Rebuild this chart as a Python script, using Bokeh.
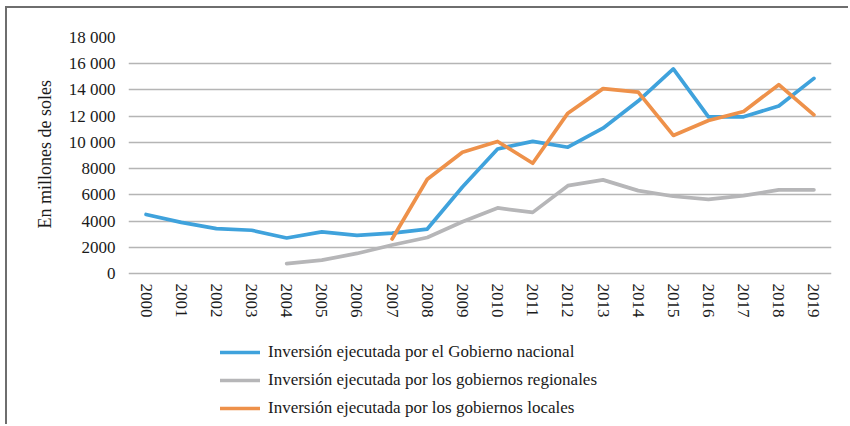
from bokeh.plotting import figure
from bokeh.models import FactorRange, Legend, LegendItem, FixedTicker, Range1d, Title
from bokeh.embed import file_html
from bokeh.resources import INLINE

years = [str(y) for y in range(2000, 2020)]

nacional = [4500, 3900, 3420, 3300, 2710, 3180, 2910, 3080, 3390, 6600,
            9500, 10080, 9630, 11080, 13150, 15600, 11950, 11950, 12780, 14880]

regional_years = [str(y) for y in range(2004, 2020)]
regional = [760, 1020, 1530, 2170, 2750, 3950, 5000, 4660, 6700, 7140,
            6320, 5890, 5660, 5940, 6380, 6380]

local_years = [str(y) for y in range(2007, 2020)]
local = [2630, 7190, 9250, 10070, 8410, 12230, 14100, 13840, 10530, 11670,
         12360, 14400, 12100]

y_ticks = [0, 2000, 4000, 6000, 8000, 10000, 12000, 14000, 16000, 18000]
y_tick_labels = ["0", "2000", "4000", "6000", "8000", "10 000", "12 000",
                 "14 000", "16 000", "18 000"]

y_label = "En millones de soles"
labels = ["Inversión ejecutada por el Gobierno nacional",
          "Inversión ejecutada por los gobiernos regionales",
          "Inversión ejecutada por los gobiernos locales"]

BLUE = "#3fa2dc"
GREY = "#b6b6b8"
ORANGE = "#ee914a"
FONT = "Liberation Serif"
FS = "17px"

Y_MAX = 18000
# frame extends below zero to host the legend: 236 px for 0..18000, 153 px below
y_start = -Y_MAX * 153 / 236

p = figure(width=843, height=418, output_backend="svg", toolbar_location=None,
           x_range=FactorRange(*years, range_padding=0),
           y_range=Range1d(y_start, Y_MAX),
           min_border_left=121, min_border_right=19, min_border_top=29,
           min_border_bottom=0)
p.outline_line_color = None
p.background_fill_color = "white"
p.border_fill_color = "white"
p.styles = {"border-left": "2px solid #6e6e6e", "border-top": "2px solid #6e6e6e",
            "margin-left": "5px", "margin-top": "6px"}

r1 = p.line(years, nacional, line_color=BLUE, line_width=3.7,
            line_cap="round", line_join="round")
r2 = p.line(regional_years, regional, line_color=GREY, line_width=3.7,
            line_cap="round", line_join="round")
r3 = p.line(local_years, local, line_color=ORANGE, line_width=3.7,
            line_cap="round", line_join="round")

p.xgrid.grid_line_color = None
p.ygrid.grid_line_color = "#b5b5b5"
p.ygrid.grid_line_width = 1.5
p.yaxis.ticker = FixedTicker(ticks=y_ticks)
p.yaxis.major_label_overrides = {t: l for t, l in zip(y_ticks, y_tick_labels)}
p.xaxis.fixed_location = 0

for ax in (p.xaxis[0], p.yaxis[0]):
    ax.axis_line_color = None
    ax.major_tick_line_color = None
    ax.minor_tick_line_color = None
    ax.major_tick_out = 0
    ax.major_tick_in = 0
    ax.major_label_text_font = FONT
    ax.major_label_text_font_size = FS
    ax.major_label_text_color = "#1a1a1a"

p.xaxis.major_label_orientation = "vertical"
p.xaxis.major_label_standoff = 10
p.yaxis.major_label_standoff = 13

ytitle = Title(text=y_label, align="left", offset=198, standoff=21,
               text_font=FONT, text_font_size="18px", text_font_style="normal",
               text_color="#1a1a1a")
p.add_layout(ytitle, "left")

legend = Legend(items=[LegendItem(label=labels[0], renderers=[r1]),
                       LegendItem(label=labels[1], renderers=[r2]),
                       LegendItem(label=labels[2], renderers=[r3])],
                location=(92, 8), orientation="vertical",
                glyph_width=40, glyph_height=20, label_height=20,
                spacing=8, padding=0, margin=0, label_standoff=8,
                label_text_font=FONT, label_text_font_size=FS,
                label_text_color="#1a1a1a",
                border_line_color=None, background_fill_alpha=0)
p.add_layout(legend, "center")

open("out.html", "w").write(file_html(p, INLINE))
